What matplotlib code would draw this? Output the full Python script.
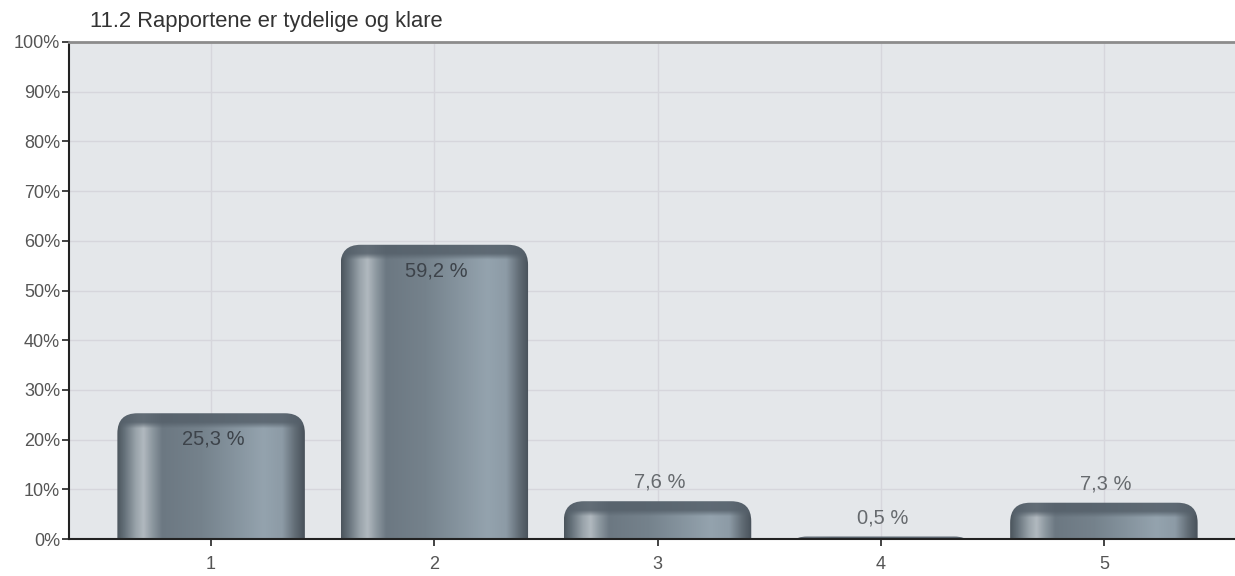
import numpy as np
import matplotlib
matplotlib.use('Agg')
import matplotlib.pyplot as plt
from matplotlib.patches import FancyBboxPatch
from matplotlib.colors import to_rgb

categories = ['1', '2', '3', '4', '5']
values = [25.3, 59.2, 7.6, 0.5, 7.3]
value_labels = ['25,3 %', '59,2 %', '7,6 %', '0,5 %', '7,3 %']
yticks = [0, 10, 20, 30, 40, 50, 60, 70, 80, 90, 100]
ytick_labels = ['0%', '10%', '20%', '30%', '40%', '50%', '60%', '70%', '80%', '90%', '100%']
title = '11.2 Rapportene er tydelige og klare'

plt.rcParams['font.family'] = ['Liberation Sans', 'DejaVu Sans']

W, H = 1235, 576
fig = plt.figure(figsize=(W / 100, H / 100), dpi=100)
ax_l, ax_r, ax_t, ax_b = 69, 1235, 42, 539
ax = fig.add_axes([ax_l / W, (H - ax_b) / H, (ax_r - ax_l) / W, (ax_b - ax_t) / H])

x = np.arange(1, len(categories) + 1)
xmin, xmax = 1 - 142 / 223, 5 + 131 / 223
ax.set_xlim(xmin, xmax)
ax.set_ylim(0, 100)
ax.set_facecolor('#e4e7ea')

ax.set_axisbelow(True)
ax.grid(True, color='#d6d6dc', lw=1.0)

# gradient stops across the bar width
stops = [0.0, 0.04, 0.10, 0.14, 0.19, 0.24, 0.45, 0.78, 0.88, 0.95, 1.0]
cols = ['#4b555d', '#66727b', '#9aa4ab', '#b1b9bf', '#8b969e', '#6c7882',
        '#75828c', '#94a3ae', '#8d9ba6', '#616c75', '#48515a']
cols = np.array([to_rgb(c) for c in cols])

px_per_x = (ax_r - ax_l) / (xmax - xmin)
px_per_y = (ax_b - ax_t) / 100.0
bw = 0.84
r_px = 20
rs = r_px / px_per_x
aspect = (r_px / px_per_y) / rs
base = -6

for xi, v, lab in zip(x, values, value_labels):
    x0 = xi - bw / 2
    patch = FancyBboxPatch((x0, base), bw, v - base,
                           boxstyle=f'round,pad=0,rounding_size={rs}',
                           mutation_aspect=aspect, facecolor='none',
                           edgecolor='none', zorder=2)
    ax.add_patch(patch)
    nx, ny = 300, 300
    fx = np.linspace(0, 1, nx)
    row = np.stack([np.interp(fx, stops, cols[:, k]) for k in range(3)], axis=-1)
    img = np.repeat(row[None, :, :], ny, axis=0)
    yy = np.linspace(base, v, ny)
    dist_px = (v - yy) * px_per_y
    band = np.clip(1 - (dist_px - 9) / 6, 0, 1) * 0.85
    dark = np.array(to_rgb('#55606a'))
    img = img * (1 - band[:, None, None]) + dark[None, None, :] * band[:, None, None]
    im = ax.imshow(img, extent=(x0, x0 + bw, base, v), origin='lower',
                   aspect='auto', interpolation='bilinear', zorder=2)
    im.set_clip_path(patch)
    if v > 15:
        ax.text(xi + 0.01, v - 5.2, lab, ha='center', va='center',
                fontsize=14.5, color='#3d434a', zorder=3)
    else:
        ax.text(xi + 0.01, v + 3.8, lab, ha='center', va='center',
                fontsize=14.5, color='#666a6e', zorder=3)

ax.set_xticks(x)
ax.set_xticklabels(categories)
ax.set_yticks(yticks)
ax.set_yticklabels(ytick_labels)
ax.tick_params(axis='both', colors='#222222', labelcolor='#555555',
               labelsize=13, length=5, width=1.2)
ax.tick_params(axis='x', pad=7)
ax.tick_params(axis='y', pad=1.5)

for s in ['left', 'bottom']:
    ax.spines[s].set_color('#222222')
    ax.spines[s].set_linewidth(1.5)
ax.spines['right'].set_visible(False)
ax.spines['top'].set_color('#8c8c8c')
ax.spines['top'].set_linewidth(2)

fig.text(90 / W, 1 - 21 / H, title, ha='left', va='center',
         fontsize=15.8, color='#333333')

fig.savefig('out.png', dpi=100, facecolor='white')
